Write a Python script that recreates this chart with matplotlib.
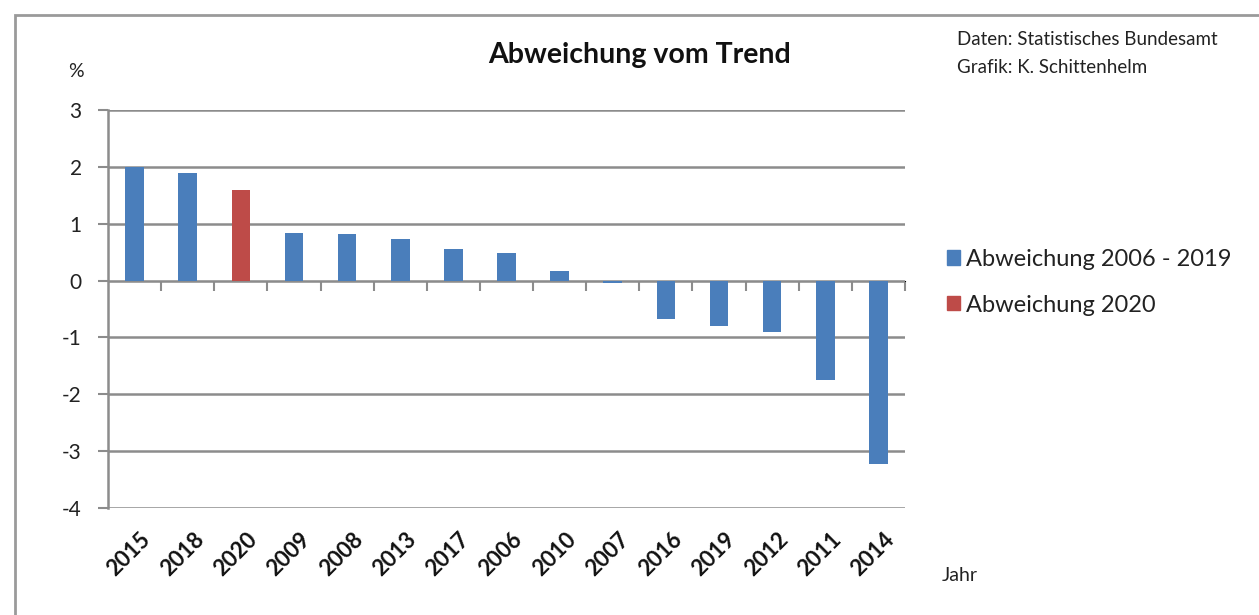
import matplotlib.pyplot as plt
from matplotlib.patches import Rectangle

# data
jahre = ["2015", "2018", "2020", "2009", "2008", "2013", "2017", "2006",
         "2010", "2007", "2016", "2019", "2012", "2011", "2014"]
abweichung = [2.0, 1.9, 1.6, 0.84, 0.82, 0.73, 0.56, 0.49,
              0.17, -0.05, -0.68, -0.8, -0.9, -1.74, -3.22]
jahr_2020 = "2020"
yticks = [3, 2, 1, 0, -1, -2, -3, -4]

blau = "#4a7ebb"
rot = "#be4b48"
grau = "#8c8c8c"

plt.rcParams['font.family'] = ['Lato', 'DejaVu Sans']

fig = plt.figure(figsize=(12.59, 6.15), dpi=100)
ax = fig.add_axes([0.0858, 0.174, 0.633, 0.647])

farben = [rot if j == jahr_2020 else blau for j in jahre]
x = list(range(len(jahre)))
ax.bar(x, abweichung, width=0.35, color=farben, zorder=3)

ax.set_xlim(-0.5, len(jahre) - 0.5)
ax.set_ylim(-4, 3)
ax.set_yticks(yticks)
ax.set_yticklabels([str(v) for v in yticks], fontsize=15, color="#222222")
ax.yaxis.grid(True, color=grau, linewidth=1.8, zorder=0)
ax.tick_params(axis="y", length=7, color=grau, width=1.5, pad=12)

ax.set_xticks([i + 0.1 for i in x])
ax.set_xticklabels(jahre, rotation=45, ha="right", rotation_mode="anchor",
                   fontsize=16, fontweight="bold", color="#111111")
ax.tick_params(axis="x", length=0, pad=15)

for s in ["top", "right", "bottom"]:
    ax.spines[s].set_visible(False)
ax.spines["left"].set_color(grau)
ax.spines["left"].set_linewidth(1.8)

# zero line with category separators
null = ax.secondary_xaxis(4 / 7)
null.set_xticks([i + 0.5 for i in x[:-1]] + [len(jahre) - 0.5])
null.set_xticklabels([])
null.tick_params(axis="x", direction="in", length=7, color=grau, width=1.5)
null.spines["bottom"].set_color(grau)
null.spines["bottom"].set_linewidth(1.8)

fig.text(0.508, 0.91, "Abweichung vom Trend", ha="center", va="center",
         fontsize=20.5, fontweight="bold", color="#111111")
fig.text(0.054, 0.883, "%", ha="left", va="center", fontsize=14, color="#222222")
fig.text(0.748, 0.065, "Jahr", ha="left", va="center", fontsize=14, color="#222222")
fig.text(0.760, 0.935, "Daten: Statistisches Bundesamt", ha="left", va="center",
         fontsize=13.5, color="#222222")
fig.text(0.760, 0.891, "Grafik: K. Schittenhelm", ha="left", va="center",
         fontsize=13.5, color="#222222")

h1 = Rectangle((0, 0), 1, 1, color=blau)
h2 = Rectangle((0, 0), 1, 1, color=rot)
fig.legend([h1, h2], ["Abweichung 2006 - 2019", "Abweichung 2020"],
           loc="center left", bbox_to_anchor=(0.735, 0.541), frameon=False,
           fontsize=17, handlelength=0.55, handleheight=0.55, handletextpad=0.25,
           labelspacing=1.05, labelcolor="#222222")

# outer frame of the chart area
fig.patches.append(Rectangle((0.012, -0.05), 1.1, 1.025, transform=fig.transFigure,
                             fill=False, edgecolor="#9a9a9a", linewidth=2))

fig.savefig("out.png", dpi=100)
